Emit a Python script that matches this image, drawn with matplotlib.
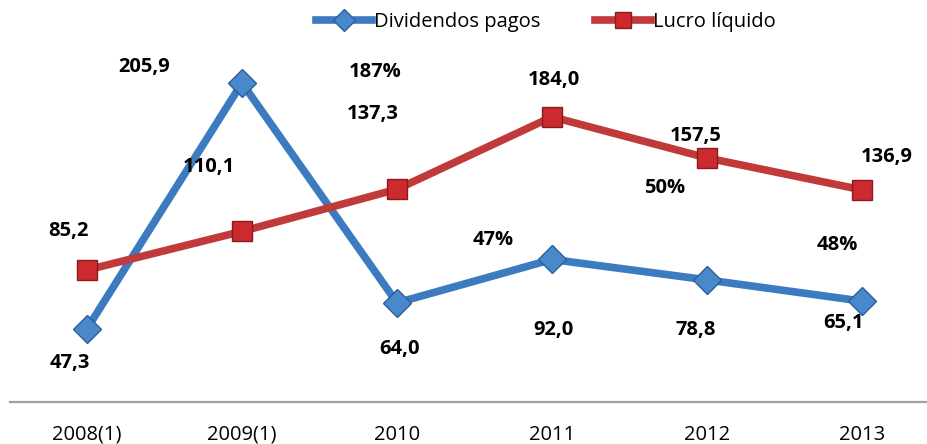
import matplotlib.pyplot as plt

# data
years = ["2008(1)", "2009(1)", "2010", "2011", "2012", "2013"]
dividendos = [47.3, 205.9, 64.0, 92.0, 78.8, 65.1]
lucro = [85.2, 110.1, 137.3, 184.0, 157.5, 136.9]
payout = ["187%", "47%", "50%", "48%"]

# label offsets in pixels (dx, dy) from each point
div_off = [(-17, -34), (-98, 16), (3, -46), (2, -71), (-11, -50), (-19, -22)]
luc_off = [(-19, 39), (-33, 64), (-24, 75), (2, 37), (-11, 22), (25, 33)]
pct_pos = [(1.858, 213.0), (2.619, 104.7), (3.729, 138.2), (4.839, 101.4)]

blue = "#3C7BC0"
red = "#C0393B"
plt.rcParams['font.family'] = ['Open Sans', 'DejaVu Sans']

fig = plt.figure(figsize=(9.28, 4.44), dpi=100)
ax = fig.add_axes([9.5 / 928, 42 / 444, 930 / 928, 387.4 / 444])

x = list(range(len(years)))
ax.plot(x, dividendos, color=blue, lw=5.5, marker="D", ms=14,
        mfc="#4A88CC", mec="#2A5F9E", mew=1, label="Dividendos pagos", zorder=3)
ax.plot(x, lucro, color=red, lw=5.5, marker="s", ms=15,
        mfc="#CC2A2E", mec="#8A1A1C", mew=1, label="Lucro líquido", zorder=3)

for i, v in enumerate(dividendos):
    ax.annotate(f"{v:.1f}".replace(".", ","), (i, v), xytext=div_off[i],
                textcoords="offset pixels", ha="center", va="center",
                fontsize=14.5, fontweight="bold", color="black")
for i, v in enumerate(lucro):
    ax.annotate(f"{v:.1f}".replace(".", ","), (i, v), xytext=luc_off[i],
                textcoords="offset pixels", ha="center", va="center",
                fontsize=14.5, fontweight="bold", color="black")
for t, (px, py) in zip(payout, pct_pos):
    ax.text(px, py, t, ha="center", va="center", fontsize=14.5,
            fontweight="bold", color="black")

ax.set_xlim(-0.5, 5.5)
ax.set_ylim(0, 250)
ax.set_xticks(x)
ax.set_xticklabels(years, fontsize=14.5)
ax.tick_params(axis="x", length=0, pad=16.5)
ax.set_yticks([])
for s in ["top", "right", "left"]:
    ax.spines[s].set_visible(False)
ax.spines["bottom"].set_color("#A0A0A0")
ax.spines["bottom"].set_linewidth(1.6)

fig.legend(loc="center", bbox_to_anchor=(546 / 928, 1 - 22 / 444), ncol=2,
           frameon=False, fontsize=14.5, handlelength=2.8, handletextpad=0.1,
           columnspacing=2.7, markerscale=0.8)

fig.savefig("out.png", dpi=100)
